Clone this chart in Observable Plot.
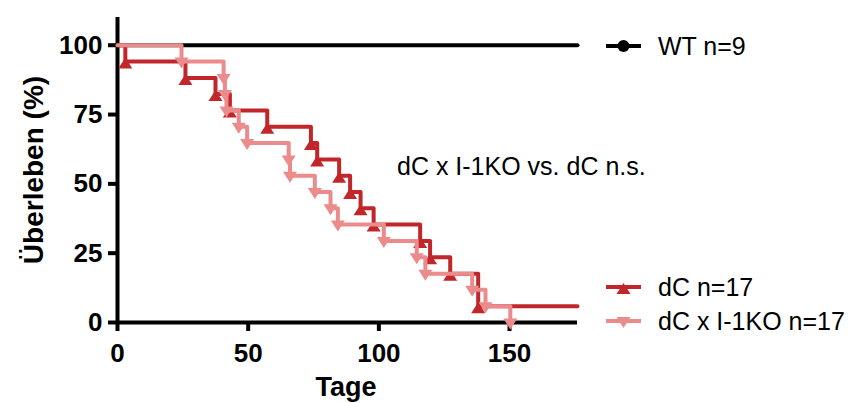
<!DOCTYPE html>
<html>
<head>
<meta charset="utf-8">
<script src="https://cdn.jsdelivr.net/npm/d3@7"></script>
<script src="https://cdn.jsdelivr.net/npm/@observablehq/plot@0.6"></script>
<style>
  html, body { margin: 0; padding: 0; background: #fff; }
  #wrap { position: relative; width: 848px; height: 403px; overflow: hidden;
          font-family: "Liberation Sans", Arial, sans-serif; }
  #wrap svg.overlay { position: absolute; left: 0; top: 0; pointer-events: none; }
</style>
</head>
<body>
<div id="wrap"></div>
<script>
// ---- data ----
const seriesNames = ["WT n=9", "dC n=17", "dC x I-1KO n=17"];
const seriesColors = ["#000000", "#c1272a", "#ec8b8b"];

const wtDays = [0, 176];
const wtSurv = [100, 100];

const dcDays = [3, 26, 37.5, 43, 57.3, 74, 76.4, 84.8, 89, 93, 98, 115.8, 119.6, 127.3, 138];
const dcSurv = [94.1, 88.2, 82.4, 76.5, 70.6, 64.7, 58.8, 52.9, 47.1, 41.2, 35.3, 29.4, 23.5, 17.6, 5.9];
const dcEnd = 176;

const koDays = [24.5, 40.6, 41.1, 41.7, 46.4, 49.6, 65.5, 66, 75.5, 81.5, 84.3, 101.9, 114.5, 117.8, 135.7, 140.8, 150.3];
const koSurv = [94.1, 88.2, 82.4, 76.5, 70.6, 64.7, 58.8, 52.9, 47.1, 41.2, 35.3, 29.4, 23.5, 17.6, 11.8, 5.9, 0];

const xTicks = [0, 50, 100, 150];
const yTicks = [0, 25, 50, 75, 100];
const xTitle = "Tage";
const yTitle = "Überleben (%)";
const annotation = "dC x I-1KO vs. dC n.s.";

// ---- derived tables ----
function stepTable(days, surv, endDay) {
  const rows = [{day: 0, surv: 100}];
  days.forEach((d, i) => rows.push({day: d, surv: surv[i]}));
  if (endDay != null) rows.push({day: endDay, surv: surv[surv.length - 1]});
  return rows;
}
const wtLine = wtDays.map((d, i) => ({day: d, surv: wtSurv[i]}));
const dcLine = stepTable(dcDays, dcSurv, dcEnd);
const koLine = stepTable(koDays, koSurv, null);
const dcEvents = dcDays.map((d, i) => ({day: d, surv: dcSurv[i]}));
const koEvents = koDays.map((d, i) => ({day: d, surv: koSurv[i]}));

// marker shapes (GraphPad style triangles)
const triUp = { draw(ctx) { ctx.moveTo(0, -4); ctx.lineTo(7, 7); ctx.lineTo(-7, 7); ctx.closePath(); } };
const triDown = { draw(ctx) { ctx.moveTo(0, 7); ctx.lineTo(7, -4); ctx.lineTo(-7, -4); ctx.closePath(); } };

const FONT = '"Liberation Sans", Arial, sans-serif';

const chart = Plot.plot({
  width: 848,
  height: 403,
  marginLeft: 117,
  marginRight: 271,
  marginTop: 17,
  marginBottom: 81,
  style: { fontFamily: FONT, background: "transparent", color: "#000", overflow: "visible" },
  x: { domain: [0, 176] },
  y: { domain: [0, 110] },
  marks: [
    Plot.axisX({ ticks: xTicks, tickSize: 9, tickPadding: 12, strokeWidth: 4,
                 fontSize: 26, fontWeight: "bold", label: null, tickFormat: d => String(d) }),
    Plot.axisY({ ticks: yTicks, tickSize: 9, tickPadding: 6, strokeWidth: 4,
                 fontSize: 26, fontWeight: "bold", label: null, tickFormat: d => String(d) }),
    Plot.ruleX([0], { stroke: "#000", strokeWidth: 4 }),
    Plot.ruleY([0], { stroke: "#000", strokeWidth: 4 }),
    Plot.line(wtLine, { x: "day", y: "surv", stroke: seriesColors[0], strokeWidth: 4 }),
    Plot.line(dcLine, { x: "day", y: "surv", stroke: seriesColors[1], strokeWidth: 4, curve: "step-after" }),
    Plot.dot(dcEvents, { x: "day", y: "surv", symbol: triUp, r: 6, fill: seriesColors[1], stroke: "none" }),
    Plot.line(koLine, { x: "day", y: "surv", stroke: seriesColors[2], strokeWidth: 4, curve: "step-after" }),
    Plot.dot(koEvents, { x: "day", y: "surv", symbol: triDown, r: 6, fill: seriesColors[2], stroke: "none" })
  ]
});

const wrap = document.getElementById("wrap");
wrap.appendChild(chart);

// ---- overlay: axis titles, annotation, legend ----
const NS = "http://www.w3.org/2000/svg";
const ov = document.createElementNS(NS, "svg");
ov.setAttribute("class", "overlay");
ov.setAttribute("width", 848);
ov.setAttribute("height", 403);
ov.setAttribute("font-family", FONT);

function txt(s, attrs) {
  const t = document.createElementNS(NS, "text");
  for (const k in attrs) t.setAttribute(k, attrs[k]);
  t.textContent = s;
  ov.appendChild(t);
  return t;
}
function el(name, attrs) {
  const e = document.createElementNS(NS, name);
  for (const k in attrs) e.setAttribute(k, attrs[k]);
  ov.appendChild(e);
  return e;
}

txt(xTitle, { x: 346, y: 396, "text-anchor": "middle", "font-size": 27, "font-weight": "bold", fill: "#000" });
txt(yTitle, { transform: "translate(42.5,170) rotate(-90)", "text-anchor": "middle", "font-size": 28, "font-weight": "bold", fill: "#000" });
txt(annotation, { x: 397, y: 175, "font-size": 25, fill: "#000" });

const legendRows = [
  { name: seriesNames[0], color: seriesColors[0], y: 46, mark: "circle" },
  { name: seriesNames[1], color: seriesColors[1], y: 287, mark: "up" },
  { name: seriesNames[2], color: seriesColors[2], y: 321, mark: "down" }
];
legendRows.forEach(r => {
  el("line", { x1: 606, x2: 641, y1: r.y, y2: r.y, stroke: r.color, "stroke-width": 4 });
  if (r.mark === "circle") el("circle", { cx: 623.5, cy: r.y, r: 6, fill: r.color });
  else if (r.mark === "up") el("path", { d: `M623.5,${r.y - 4}L630.5,${r.y + 7}L616.5,${r.y + 7}Z`, fill: r.color });
  else el("path", { d: `M623.5,${r.y + 7}L630.5,${r.y - 4}L616.5,${r.y - 4}Z`, fill: r.color });
  txt(r.name, { x: 658, y: r.y + 9, "font-size": 25, fill: "#000" });
});
wrap.appendChild(ov);
</script>
</body>
</html>
